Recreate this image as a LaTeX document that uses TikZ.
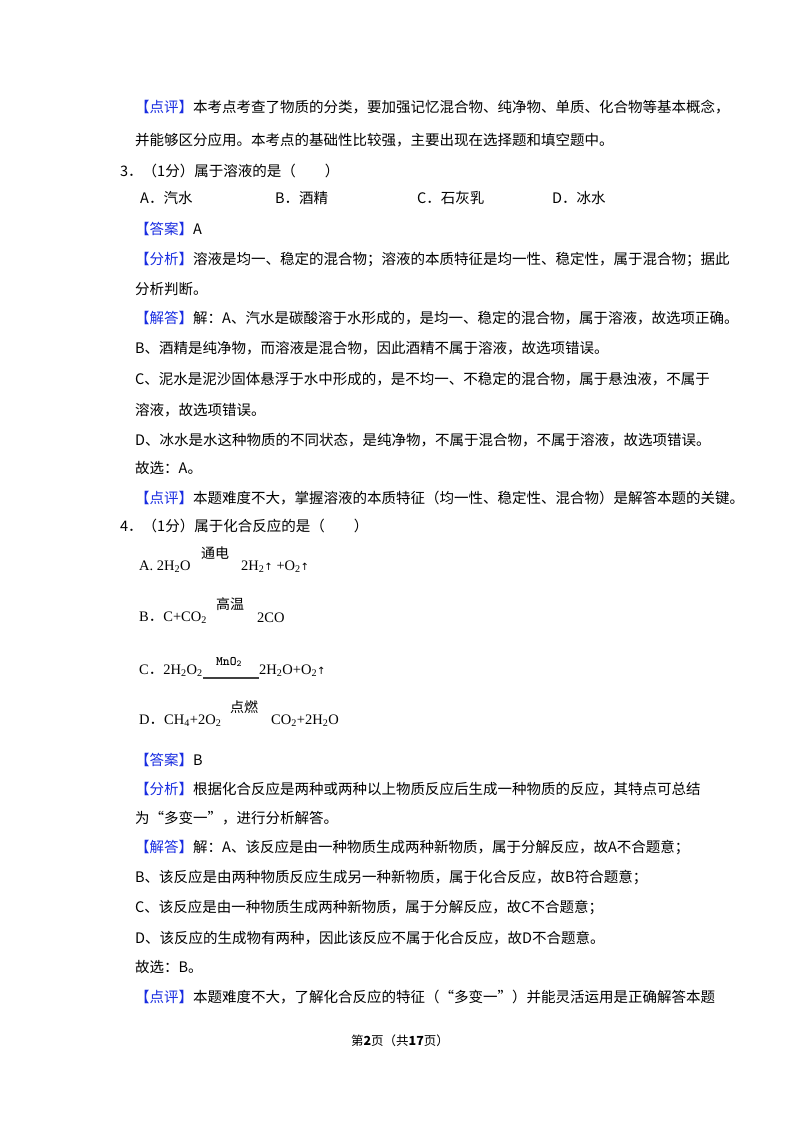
\documentclass[tikz,border=0pt]{standalone}
\usepackage{fontspec}
\setmainfont{Liberation Serif}
\newfontfamily\cjk{Noto Sans CJK SC}
\newfontfamily\symf{DejaVu Sans}
\usetikzlibrary{positioning}
\definecolor{tagblue}{RGB}{25,45,225}
\newcommand{\tag}[1]{\textcolor{tagblue}{【#1】}}
\newcommand{\up}{{\symf\fontsize{10}{10}\selectfont↑}}
\newcommand{\optdot}{{\cjk．}}
\tikzset{
  txt/.style={anchor=west,inner sep=0pt,font=\cjk\fontsize{14.5}{14.5}\selectfont},
  eq/.style={anchor=west,inner sep=0pt,font=\fontsize{14.5}{14.5}\selectfont},
  cond/.style={inner sep=0pt,font=\cjk\fontsize{14}{14}\selectfont},
  eqline/.style={double,double distance=1.3pt,thin},
}
\begin{document}
\begin{tikzpicture}[x=1pt,y=-1pt]
  \useasboundingbox[fill=white] (0,0) rectangle (800,1132);
  %%%%% QUESTION 3
  \node[txt] (r1) at (135,107) {\tag{点评}本考点考查了物质的分类，要加强记忆混合物、纯净物、单质、化合物等基本概念，};
  \node[txt] (r2) at (135,140) {并能够区分应用。本考点的基础性比较强，主要出现在选择题和填空题中。};
  \node[txt] (q3) at (120,171) {3．（1分）属于溶液的是（　　）};
  \node[txt] (q3a) at (140,198) {A．汽水};
  \node[txt] (q3b) at (275,198) {B．酒精};
  \node[txt] (q3c) at (417,198) {C．石灰乳};
  \node[txt] (q3d) at (552,198) {D．冰水};
  \node[txt] (ans3) at (135,229) {\tag{答案}A};
  \node[txt] (an3a) at (135,260) {\tag{分析}溶液是均一、稳定的混合物；溶液的本质特征是均一性、稳定性，属于混合物；据此};
  \node[txt] (an3b) at (135,289) {分析判断。};
  \node[txt] (so3a) at (135,318) {\tag{解答}解：A、汽水是碳酸溶于水形成的，是均一、稳定的混合物，属于溶液，故选项正确。};
  \node[txt] (so3b) at (135,348) {B、酒精是纯净物，而溶液是混合物，因此酒精不属于溶液，故选项错误。};
  \node[txt] (so3c) at (135,379) {C、泥水是泥沙固体悬浮于水中形成的，是不均一、不稳定的混合物，属于悬浊液，不属于};
  \node[txt] (so3d) at (135,410) {溶液，故选项错误。};
  \node[txt] (so3e) at (135,440) {D、冰水是水这种物质的不同状态，是纯净物，不属于混合物，不属于溶液，故选项错误。};
  \node[txt] (so3f) at (135,468) {故选：A。};
  \node[txt] (rv3) at (135,498) {\tag{点评}本题难度不大，掌握溶液的本质特征（均一性、稳定性、混合物）是解答本题的关键。};
  %%%%% QUESTION 4
  \node[txt] (q4) at (120,526) {4．（1分）属于化合反应的是（　　）};
  % the four equations
  \node[eq] (eqA1) at (139,567) {A. 2H\textsubscript{2}O};
  \node[eq] (eqA2) at (241,567) {2H\textsubscript{2}\up{} +O\textsubscript{2}\up};
  \coordinate (a1) at ([yshift=1pt]eqA1.east);
  \draw[eqline] (a1) -- (a1 -| eqA2.west);
  \node[cond] (cA) at (215,553) {通电};
  \node[eq] (eqB1) at (139,618) {B\optdot C+CO\textsubscript{2}};
  \node[eq] (eqB2) at (257,618) {2CO};
  \coordinate (b1) at ([yshift=1pt]eqB1.east);
  \draw[eqline] (b1) -- (b1 -| eqB2.west);
  \node[cond] (cB) at (230,604) {高温};
  \node[eq] (eqC1) at (139,671) {C\optdot 2H\textsubscript{2}O\textsubscript{2}};
  \node[eq] (eqC2) at (259,671) {2H\textsubscript{2}O+O\textsubscript{2}\up};
  \coordinate (c1) at ([yshift=-7pt]eqC1.east);
  \draw[line width=2pt,black!75] (c1) -- (c1 -| eqC2.west);
  \node[cond,font=\ttfamily\bfseries\fontsize{13}{13}\selectfont] (cC) at (229,662) {MnO\textsubscript{2}};
  \node[eq] (eqD1) at (139,721) {D\optdot CH\textsubscript{4}+2O\textsubscript{2}};
  \node[eq] (eqD2) at (271,721) {CO\textsubscript{2}+2H\textsubscript{2}O};
  \coordinate (d1) at ([yshift=1pt]eqD1.east);
  \draw[eqline] (d1) -- (d1 -| eqD2.west);
  \node[cond] (cD) at (244,707) {点燃};
  % answer text
  \node[txt] (ans4) at (135,760) {\tag{答案}B};
  \node[txt] (an4a) at (135,789) {\tag{分析}根据化合反应是两种或两种以上物质反应后生成一种物质的反应，其特点可总结};
  \node[txt] (an4b) at (135,818) {为“多变一”，进行分析解答。};
  \node[txt] (so4a) at (135,848) {\tag{解答}解：A、该反应是由一种物质生成两种新物质，属于分解反应，故A不合题意；};
  \node[txt] (so4b) at (135,878) {B、该反应是由两种物质反应生成另一种新物质，属于化合反应，故B符合题意；};
  \node[txt] (so4c) at (135,908) {C、该反应是由一种物质生成两种新物质，属于分解反应，故C不合题意；};
  \node[txt] (so4d) at (135,938) {D、该反应的生成物有两种，因此该反应不属于化合反应，故D不合题意。};
  \node[txt] (so4e) at (135,967) {故选：B。};
  \node[txt] (rv4) at (135,997) {\tag{点评}本题难度不大，了解化合反应的特征（“多变一”）并能灵活运用是正确解答本题};
  %%%%% FOOTER
  \node[txt,anchor=center,font=\cjk\fontsize{12.5}{12.5}\selectfont] (foot) at (400,1041) {第\textbf{2}页（共\textbf{17}页）};
\end{tikzpicture}
\end{document}
